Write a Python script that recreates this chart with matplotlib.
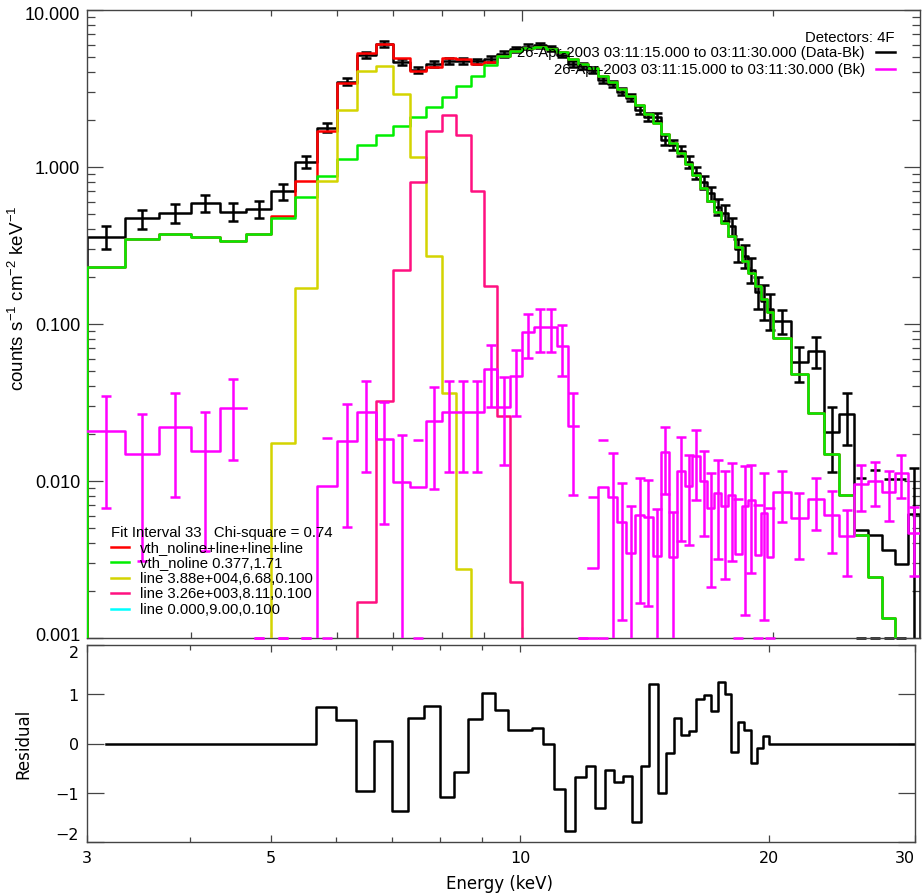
import numpy as np
import matplotlib
matplotlib.use('Agg')
import matplotlib.pyplot as plt
import matplotlib.transforms as mtransforms
from matplotlib.ticker import FixedLocator, NullFormatter, LogLocator

plt.rcParams['font.family'] = ['Liberation Sans', 'DejaVu Sans']
plt.rcParams['mathtext.fontset'] = 'custom'
plt.rcParams['mathtext.rm'] = 'Liberation Sans'
plt.rcParams['mathtext.it'] = 'Liberation Sans:italic'

# ---- data ----
# energy bin edges (keV): 1/3 keV up to 20 keV, then 1 keV
edges = np.array([3.000, 3.333, 3.667, 4.000, 4.333, 4.667, 5.000, 5.333, 5.667, 6.000,
                  6.333, 6.667, 7.000, 7.333, 7.667, 8.000, 8.333, 8.667, 9.000, 9.333,
                  9.667, 10.000, 10.333, 10.667, 11.000, 11.333, 11.667, 12.000, 12.333, 12.667,
                  13.000, 13.333, 13.667, 14.000, 14.333, 14.667, 15.000, 15.333, 15.667, 16.000,
                  16.333, 16.667, 17.000, 17.333, 17.667, 18.000, 18.333, 18.667, 19.000, 19.333,
                  19.667, 20.000, 21.0, 22.0, 23.0, 24.0, 25.0, 26.0, 27.0, 28.0, 29.0, 30.0])

# Data - Bk (counts s^-1 cm^-2 keV^-1) and 1-sigma errors
data_bk = [0.36, 0.47, 0.51, 0.59, 0.52, 0.54, 0.70, 1.08, 1.78, 3.50,
           5.15, 6.08, 4.65, 4.17, 4.52, 4.73, 4.76, 4.70, 4.88, 5.26,
           5.62, 5.85, 5.95, 5.70, 5.20, 4.56, 4.40, 4.17, 3.60, 3.37,
           3.02, 2.76, 2.31, 2.09, 2.08, 1.49, 1.38, 1.27, 1.08, 0.92,
           0.80, 0.68, 0.56, 0.51, 0.42, 0.30, 0.272, 0.222, 0.161, 0.141,
           0.124, 0.104, 0.057, 0.0676, 0.0204, 0.0267, 0.0049, 0.0045, 0.00365, 0.00296,
           0.00617]
data_err = [0.06, 0.065, 0.07, 0.075, 0.07, 0.07, 0.08, 0.095, 0.12, 0.18,
            0.22, 0.25, 0.20, 0.19, 0.20, 0.20, 0.20, 0.20, 0.20, 0.21,
            0.22, 0.22, 0.22, 0.22, 0.21, 0.20, 0.19, 0.18, 0.17, 0.16,
            0.15, 0.14, 0.13, 0.12, 0.115, 0.11, 0.10, 0.10, 0.09, 0.085,
            0.08, 0.07, 0.065, 0.06, 0.055, 0.05, 0.045, 0.04, 0.037, 0.035,
            0.032, 0.018, 0.014, 0.015, 0.009, 0.0097, 0.0056, 0.0073, 0.0067, 0.0073,
            0.006]

# background (Bk)
bk = [0.0207, 0.0149, 0.0222, 0.0156, 0.0292, 0.0, 0.0, 0.0005, 0.0093, 0.0181,
      0.0274, 0.0186, 0.0099, 0.0091, 0.0242, 0.0274, 0.0274, 0.0274, 0.0516, 0.0294,
      0.0469, 0.0885, 0.0953, 0.0953, 0.0728, 0.0223, 0.0, 0.0028, 0.0091, 0.0079,
      0.0055, 0.00348, 0.00607, 0.0059, 0.00334, 0.0152, 0.00327, 0.01164, 0.0093, 0.01435,
      0.01004, 0.0067, 0.0084, 0.00697, 0.0081, 0.00343, 0.0069, 0.0076, 0.0034, 0.0063,
      0.0033, 0.0085, 0.00579, 0.00767, 0.00607, 0.00449, 0.00957, 0.01004, 0.00855, 0.01125,
      0.00467]
bk_err = [0.014, 0.0118, 0.0143, 0.012, 0.0155, 0.0, 0.0, 0.0005, 0.0095, 0.013,
          0.016, 0.0133, 0.0097, 0.0091, 0.0153, 0.016, 0.016, 0.016, 0.022, 0.0167,
          0.021, 0.028, 0.029, 0.029, 0.026, 0.0142, 0.0, 0.0051, 0.0091, 0.0072,
          0.0042, 0.0034, 0.0044, 0.0043, 0.0033, 0.0069, 0.0031, 0.0075, 0.0054, 0.0068,
          0.0056, 0.0046, 0.0052, 0.0046, 0.005, 0.0042, 0.0055, 0.005, 0.0036, 0.005,
          0.0034, 0.003, 0.0026, 0.0028, 0.0026, 0.002, 0.0031, 0.0031, 0.003, 0.0034,
          0.0022]

# fit components
total_model = [0.232, 0.348, 0.374, 0.357, 0.340, 0.372, 0.49, 0.81, 1.69, 3.41,
               5.35, 6.07, 4.92, 4.07, 4.36, 4.95, 4.88, 4.53, 4.64, 5.10,
               5.51, 5.73, 5.80, 5.64, 5.38, 4.90, 4.53, 4.25, 3.82, 3.46,
               3.14, 2.82, 2.50, 2.17, 1.92, 1.63, 1.42, 1.22, 1.05, 0.89,
               0.74, 0.61, 0.514, 0.44, 0.365, 0.308, 0.253, 0.211, 0.175, 0.144,
               0.119, 0.082, 0.048, 0.027, 0.0149, 0.0081, 0.0045, 0.00245, 0.00135, 0.0007,
               0.0004]
vth = [0.232, 0.348, 0.374, 0.357, 0.340, 0.372, 0.471, 0.644, 0.873, 1.12,
       1.38, 1.60, 1.83, 2.09, 2.40, 2.78, 3.27, 3.82, 4.46, 5.07,
       5.50, 5.73, 5.80, 5.64, 5.38, 4.90, 4.53, 4.25, 3.82, 3.46,
       3.14, 2.82, 2.50, 2.17, 1.92, 1.63, 1.42, 1.22, 1.05, 0.89,
       0.74, 0.61, 0.514, 0.44, 0.365, 0.308, 0.253, 0.211, 0.175, 0.144,
       0.119, 0.082, 0.048, 0.027, 0.0149, 0.0081, 0.0045, 0.00245, 0.00135, 0.0007,
       0.0004]
line_668 = [0, 0, 0, 0, 0, 0, 0.0175, 0.169, 0.81, 2.31,
            4.07, 4.42, 2.92, 1.15, 0.27, 0.0364, 0.00275] + [0] * 44
line_811 = [0] * 10 + [0.00169, 0.0325, 0.222, 0.80, 1.69, 2.14, 1.60, 0.70, 0.175, 0.026,
                       0.00226] + [0] * 40
line_900 = [0] * 61

residual = [0, 0, 0, 0, 0, 0, 0, 0, 0.74, 0.47,
            -0.97, 0.06, -1.37, 0.52, 0.77, -1.08, -0.58, 0.50, 1.03, 0.68,
            0.27, 0.28, 0.31, -0.02, -0.92, -1.78, -0.68, -0.46, -1.30, -0.53,
            -0.78, -0.65, -1.60, -0.45, 1.20, -1.01, -0.20, 0.52, 0.18, 0.25,
            0.91, 0.98, 0.66, 1.24, 1.01, -0.18, 0.43, 0.27, -0.39, -0.09,
            0.15, 0, 0, 0, 0, 0, 0, 0, 0, 0,
            0]

y_ticks = [0.001, 0.01, 0.1, 1.0, 10.0]
y_ticklabels = ['0.001', '0.010', '0.100', '1.000', '10.000']
x_ticks = [3, 5, 10, 20, 30]
x_ticklabels = ['3', '5', '10', '20', '30']

YMIN, YMAX = 0.001, 10.0
TINY = 1e-9
centers = 0.5 * (edges[:-1] + edges[1:])

W, H = 923, 895
fig = plt.figure(figsize=(W / 100, H / 100), dpi=100)


def box(x0, y0, x1, y1):
    return [x0 / W, 1 - y1 / H, (x1 - x0) / W, (y1 - y0) / H]


ax = fig.add_axes(box(86.5, 11, 920, 639))
axr = fig.add_axes(box(87, 646, 915, 843))


def step_xy(vals, gaps=False):
    v = np.asarray(vals, float)
    end = np.nan if gaps else TINY
    v = np.where(v > 0, v, end)
    x = np.concatenate([[edges[0]], np.repeat(edges, 2)[1:-1], [edges[-1]]])
    y = np.concatenate([[end], np.repeat(v, 2), [end]])
    return x, y


def error_bars(vals, errs, color, z):
    v = np.asarray(vals, float)
    e = np.asarray(errs, float)
    lo, hi = v - e, v + e
    ok = lo > 0
    ax.vlines(centers[ok], lo[ok], hi[ok], color=color, lw=1.8, zorder=z)
    # lower ends at or below zero are put on the axis floor
    cap_lo = np.where(lo > 0, lo, YMIN)
    cap_hi = np.where(hi > YMIN, hi, YMIN)
    for caps in (cap_lo, cap_hi):
        m = (caps >= YMIN) & (caps <= YMAX)
        ax.plot(centers[m], caps[m], ls='none', marker='_', ms=7, mew=1.8,
                color=color, zorder=z, clip_on=False)


def nudge(label, dy_px):
    off = mtransforms.ScaledTranslation(0, dy_px / 100, fig.dpi_scale_trans)
    label.set_transform(label.get_transform() + off)


# ---- main panel ----
error_bars(data_bk, data_err, 'black', 2)
ax.plot(*step_xy(data_bk), color='black', lw=1.8, zorder=2)
ax.plot(*step_xy(total_model), color='#ff0000', lw=1.8, zorder=3)
ax.plot(*step_xy(vth), color='#00ee00', lw=1.8, zorder=4)
ax.plot(*step_xy(line_668), color='#d4d400', lw=1.8, zorder=5)
ax.plot(*step_xy(line_811), color='#ff1080', lw=1.8, zorder=6)
ax.plot(*step_xy(line_900), color='#00ffff', lw=1.8, zorder=6)
error_bars(bk, bk_err, '#ff00ff', 7)
ax.plot(*step_xy(bk, gaps=True), color='#ff00ff', lw=1.8, zorder=7)

ax.set_xscale('log')
ax.set_yscale('log')
ax.set_xlim(3, 30)
ax.set_ylim(YMIN, YMAX)
ax.xaxis.set_major_locator(FixedLocator([10]))
ax.xaxis.set_minor_locator(FixedLocator([4, 5, 6, 7, 8, 9, 20]))
ax.xaxis.set_major_formatter(NullFormatter())
ax.xaxis.set_minor_formatter(NullFormatter())
ax.yaxis.set_major_locator(FixedLocator(y_ticks))
ax.set_yticklabels(y_ticklabels)
ax.yaxis.set_minor_locator(LogLocator(base=10, subs=np.arange(2, 10), numticks=20))
ax.yaxis.set_minor_formatter(NullFormatter())
ax.tick_params(which='both', direction='in', top=True, right=True, color='#444444', width=0.9)
ax.tick_params(axis='y', which='major', length=11.5, pad=4.5, labelsize=13)
ax.tick_params(axis='y', which='minor', length=6)
ax.tick_params(axis='x', which='major', length=8)
ax.tick_params(axis='x', which='minor', length=4)
for s in ax.spines.values():
    s.set_color('#444444')
    s.set_linewidth(1.0)
mlabs = ax.get_yticklabels()
nudge(mlabs[0], 4)
nudge(mlabs[-1], -3)

fig.text(18 / W, 1 - 298 / H, 'counts s$^{-1}$ cm$^{-2}$ keV$^{-1}$', rotation=90,
         ha='center', va='center', fontsize=13.5)

# legend, top right
tr = ax.transAxes
fs_leg = 10.7
ax.text(0.970, 0.9575, 'Detectors: 4F', transform=tr, ha='right', va='center', fontsize=fs_leg, zorder=10)
ax.text(0.934, 0.9326, '26-Apr-2003 03:11:15.000 to 03:11:30.000 (Data-Bk)', transform=tr,
        ha='right', va='center', fontsize=fs_leg, zorder=10)
ax.text(0.934, 0.906, '26-Apr-2003 03:11:15.000 to 03:11:30.000 (Bk)', transform=tr,
        ha='right', va='center', fontsize=fs_leg, zorder=10)
ax.plot([0.9472, 0.970], [0.9326, 0.9326], transform=tr, color='black', lw=1.8, zorder=10)
ax.plot([0.9472, 0.970], [0.906, 0.906], transform=tr, color='#ff00ff', lw=1.8, zorder=10)

# legend, bottom left
ax.text(0.0294, 0.1693, 'Fit Interval 33   Chi-square = 0.74', transform=tr,
        ha='left', va='center', fontsize=fs_leg, zorder=10)
fit_labels = ['vth_noline+line+line+line', 'vth_noline 0.377,1.71',
              'line 3.88e+004,6.68,0.100', 'line 3.26e+003,8.11,0.100',
              'line 0.000,9.00,0.100']
fit_colors = ['#ff0000', '#00ee00', '#d4d400', '#ff1080', '#00ffff']
fit_y = [0.1444, 0.1205, 0.0951, 0.0712, 0.0462]
for lab, col, yy in zip(fit_labels, fit_colors, fit_y):
    ax.plot([0.0294, 0.0514], [yy, yy], transform=tr, color=col, lw=1.8, zorder=10)
    ax.text(0.0645, yy, lab, transform=tr, ha='left', va='center', fontsize=fs_leg, zorder=10)

# ---- residual panel ----
res = np.asarray(residual, float)
rx = np.concatenate([[centers[0]], np.repeat(edges[1:-1], 2), [edges[-1]]])
ry = np.repeat(res, 2)
axr.plot(rx, ry, color='black', lw=1.8)
axr.set_xscale('log')
axr.set_xlim(3, 30)
axr.set_ylim(-2, 2)
axr.xaxis.set_major_locator(FixedLocator(x_ticks))
axr.set_xticklabels(x_ticklabels, fontfamily='DejaVu Sans', fontsize=11.5)
axr.get_xticklabels()[-1].set_ha('right')
axr.xaxis.set_minor_locator(FixedLocator([4, 6, 7, 8, 9]))
axr.xaxis.set_minor_formatter(NullFormatter())
axr.yaxis.set_major_locator(FixedLocator([-2, -1, 0, 1, 2]))
axr.set_yticklabels(['\u22122', '\u22121', '0', '1', '2'], fontfamily='DejaVu Sans', fontsize=11.5)
ylabs = axr.get_yticklabels()
ylabs[0].set_va('bottom')
ylabs[-1].set_va('top')
nudge(ylabs[-1], -1)
axr.tick_params(which='both', direction='in', top=True, right=True, color='#444444', width=0.9)
axr.tick_params(axis='y', which='major', length=12, pad=6)
axr.tick_params(axis='x', which='major', length=5, pad=6)
axr.tick_params(axis='x', which='minor', length=3.5)
for s in axr.spines.values():
    s.set_color('#444444')
    s.set_linewidth(1.0)

fig.text(500 / W, 1 - 884 / H, 'Energy (keV)', ha='center', va='center',
         fontsize=12, fontfamily='DejaVu Sans')
fig.text(23 / W, 1 - 744 / H, 'Residual', rotation=90, ha='center', va='center',
         fontsize=12, fontfamily='DejaVu Sans')

fig.savefig('out.png', dpi=100)
